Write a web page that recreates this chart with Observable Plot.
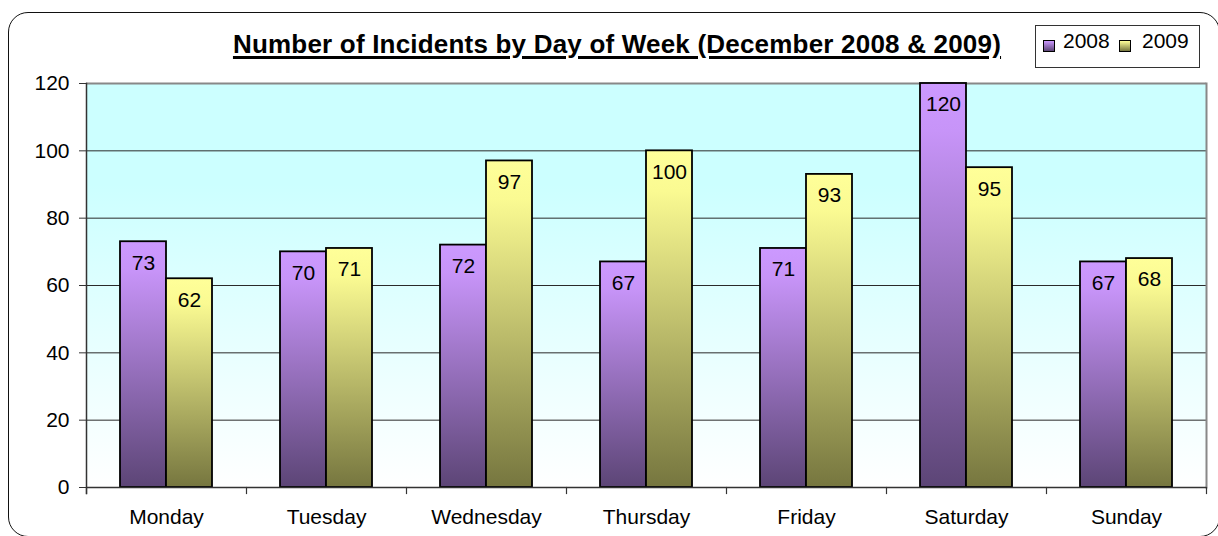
<!DOCTYPE html>
<html>
<head>
<meta charset="utf-8">
<script src="https://cdn.jsdelivr.net/npm/d3@7"></script>
<script src="https://cdn.jsdelivr.net/npm/@observablehq/plot@0.6"></script>
<style>
  html, body { margin: 0; padding: 0; background: #fff; overflow: hidden; }
  #wrap { position: relative; width: 1218px; height: 536px; font-family: "Liberation Sans", Arial, sans-serif; }
  #border { position: absolute; left: 8px; top: 12px; width: 1212px; height: 525px; box-sizing: border-box;
            border: 1.5px solid #111; border-radius: 20px; }
  #chart { position: absolute; left: 0; top: 0; }
  #title { position: absolute; left: 0; width: 1234px; top: 31px; text-align: center; font-size: 26px; line-height: 26px;
           font-weight: bold; letter-spacing: 0.2px; color: #000; }
  #title span { text-decoration: underline; text-decoration-thickness: 3px; text-underline-offset: 3px; }
  #legend { position: absolute; left: 1035px; top: 25px; width: 165px; height: 43px; box-sizing: border-box;
            border: 1px solid #333; background: #fff; }
  .sw { position: absolute; top: 14px; width: 12px; height: 12px; box-sizing: border-box; border: 1px solid #000; }
  .lt { position: absolute; top: 3px; font-size: 21px; line-height: 24px; color: #000; }
</style>
</head>
<body>
<svg width="0" height="0" style="position:absolute">
  <defs>
    <linearGradient id="g2008" x1="0" y1="0" x2="0" y2="1">
      <stop offset="0" stop-color="#cc99ff"/>
      <stop offset="0.12" stop-color="#c794f8"/>
      <stop offset="1" stop-color="#5c4576"/>
    </linearGradient>
    <linearGradient id="g2009" x1="0" y1="0" x2="0" y2="1">
      <stop offset="0" stop-color="#ffff99"/>
      <stop offset="0.12" stop-color="#fafa92"/>
      <stop offset="1" stop-color="#76763f"/>
    </linearGradient>
    <linearGradient id="gbg" x1="0" y1="0" x2="0" y2="1">
      <stop offset="0" stop-color="#ccffff"/>
      <stop offset="0.25" stop-color="#ccffff"/>
      <stop offset="1" stop-color="#ffffff"/>
    </linearGradient>
  </defs>
</svg>
<div id="wrap">
  <div id="border"></div>
  <div id="chart"></div>
  <div id="title"><span>Number of Incidents by Day of Week (December 2008 &amp; 2009)</span></div>
  <div id="legend">
    <div class="sw" style="left:7px; background: linear-gradient(#cc99ff, #5c4576);"></div>
    <div class="lt" style="left:27px;">2008</div>
    <div class="sw" style="left:83px; background: linear-gradient(#ffff99, #76763f);"></div>
    <div class="lt" style="left:106px;">2009</div>
  </div>
</div>
<script>
const days = ["Monday", "Tuesday", "Wednesday", "Thursday", "Friday", "Saturday", "Sunday"];
const years = ["2008", "2009"];
const values2008 = [73, 70, 72, 67, 71, 120, 67];
const values2009 = [62, 71, 97, 100, 93, 95, 68];
const yTicks = [0, 20, 40, 60, 80, 100, 120];
const gridTicks = [20, 40, 60, 80, 100];

const rows = [];
days.forEach((d, i) => {
  rows.push({day: d, year: "2008", value: values2008[i]});
  rows.push({day: d, year: "2009", value: values2009[i]});
});

const W = 1218, H = 536;
const mTop = 83, mBottom = 49, mLeft = 85, mRight = 12;
const plotH = H - mTop - mBottom;
const fillFor = {"2008": "url(#g2008)", "2009": "url(#g2009)"};

const chart = Plot.plot({
  width: W,
  height: H,
  marginTop: mTop,
  marginBottom: mBottom,
  marginLeft: mLeft,
  marginRight: mRight,
  style: {background: "transparent", fontFamily: "'Liberation Sans', Arial, sans-serif", color: "#000"},
  fx: {domain: days, paddingInner: 0, paddingOuter: 0, label: null},
  x: {domain: years, paddingInner: 0, paddingOuter: 0.72, axis: null},
  y: {domain: [0, 120], axis: null},
  marks: [
    Plot.frame({facet: "super", fill: "url(#gbg)", stroke: "none"}),
    Plot.ruleY(gridTicks, {stroke: "#2a2a2a", strokeWidth: 1}),
    Plot.ruleY([120], {stroke: "#888", strokeWidth: 2}),
    Plot.frame({facet: "super", anchor: "right", stroke: "#888", strokeWidth: 2}),
    Plot.barY(rows, {fx: "day", x: "year", y: "value", fill: d => fillFor[d.year], stroke: "#000", strokeWidth: 1.8}),
    Plot.text(rows, {fx: "day", x: "year", y: "value", text: d => String(d.value), lineAnchor: "top", dy: 13, fontSize: 21, fill: "#000"}),
    Plot.ruleY([0], {stroke: "#333", strokeWidth: 1.5}),
    Plot.frame({facet: "super", anchor: "left", stroke: "#333", strokeWidth: 1.5, insetBottom: -6}),
    Plot.frame({anchor: "left", stroke: "#333", strokeWidth: 1.2, insetTop: plotH, insetBottom: -6}),
    Plot.frame({facet: "super", anchor: "right", stroke: "#333", strokeWidth: 1.2, insetTop: plotH, insetBottom: -6}),
    Plot.axisY({ticks: yTicks, tickSize: 7, tickPadding: 10, fontSize: 21, label: null, stroke: "#333"}),
    Plot.axisFx({anchor: "bottom", tickSize: 0, tickPadding: 22, fontSize: 21, label: null})
  ]
});
document.getElementById("chart").appendChild(chart);
</script>
</body>
</html>
